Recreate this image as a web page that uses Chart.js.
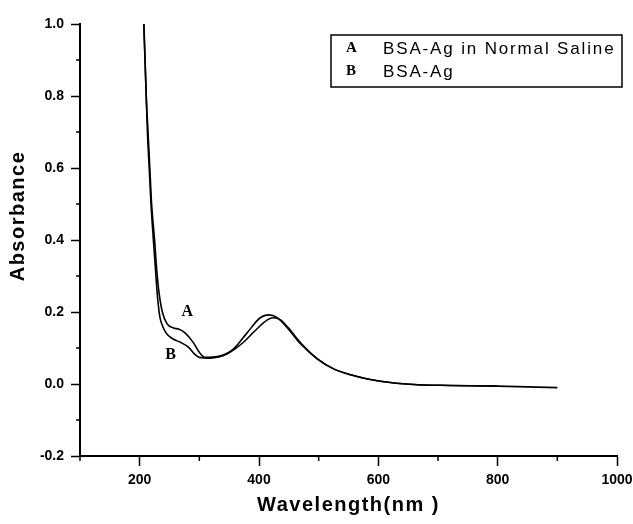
<!DOCTYPE html>
<html>
<head>
<meta charset="utf-8">
<script src="https://cdn.jsdelivr.net/npm/chart.js@4.4.1/dist/chart.umd.min.js"></script>
<style>
  html, body { margin: 0; padding: 0; background: #fff; }
  #wrap { width: 633px; height: 524px; }
</style>
</head>
<body>
<div id="wrap"><canvas id="uvChart"></canvas></div>
<script>
// curve A: BSA-Ag in Normal Saline
var wavelengthA = [207, 209, 211, 214, 217, 220, 225, 228, 232, 238, 246, 256, 266, 276, 290, 300, 310, 330, 357, 380, 402, 416, 430, 448, 470, 498, 525, 555, 582, 620, 666, 720, 800];
var absorbanceA = [1.0, 0.9, 0.8, 0.7, 0.6, 0.5, 0.4, 0.33, 0.26, 0.2, 0.167, 0.156, 0.152, 0.142, 0.115, 0.088, 0.074, 0.076, 0.097, 0.142, 0.184, 0.192, 0.185, 0.155, 0.111, 0.069, 0.042, 0.025, 0.014, 0.004, -0.002, -0.004, -0.006];

// curve B: BSA-Ag
var wavelengthB = [207, 209, 211, 213, 216, 219, 223, 226, 230, 234, 240, 246, 256, 268, 282, 292, 300, 318, 347, 374, 391, 414, 424, 436, 448, 470, 498, 525, 555, 582, 620, 666, 720, 800, 850, 900];
var absorbanceB = [1.0, 0.9, 0.8, 0.7, 0.6, 0.5, 0.4, 0.33, 0.24, 0.185, 0.155, 0.138, 0.125, 0.116, 0.102, 0.083, 0.074, 0.072, 0.084, 0.116, 0.144, 0.178, 0.184, 0.178, 0.158, 0.114, 0.07, 0.042, 0.025, 0.014, 0.004, -0.002, -0.004, -0.006, -0.008, -0.01];

var legendKeys = ["A", "B"];
var legendNames = ["BSA-Ag in Normal Saline", "BSA-Ag"];
var xTitle = "Wavelength(nm )";
var yTitle = "Absorbance";

function toPoints(xs, ys) {
    var pts = [];
    for (var i = 0; i < xs.length; i++) pts.push({ x: xs[i], y: ys[i] });
    return pts;
}

function isMajorX(v) { return Math.round(v) % 200 === 0; }
function isMajorY(v) { return Math.round(v * 10) % 2 === 0; }

var tickFont = { family: "Liberation Sans", size: 14, weight: "bold" };

// minor ticks, axis titles, legend box and A/B labels
var annotations = {
    id: "annotations",
    afterDraw: function (chart) {
        var ctx = chart.ctx;
        var xs = chart.scales.x, ys = chart.scales.y;
        var area = chart.chartArea;
        ctx.save();
        ctx.strokeStyle = "#000";
        ctx.lineWidth = 1.5;
        // minor ticks
        ctx.beginPath();
        xs.ticks.forEach(function (t) {
            if (isMajorX(t.value)) return;
            var px = xs.getPixelForValue(t.value);
            ctx.moveTo(px, area.bottom);
            ctx.lineTo(px, area.bottom + 5);
        });
        ys.ticks.forEach(function (t) {
            if (isMajorY(t.value)) return;
            var py = ys.getPixelForValue(t.value);
            ctx.moveTo(area.left, py);
            ctx.lineTo(area.left - 4, py);
        });
        ctx.stroke();

        ctx.fillStyle = "#000";
        ctx.textBaseline = "middle";
        if ("letterSpacing" in ctx) ctx.letterSpacing = "1.5px";
        // axis titles
        ctx.font = "bold 20px 'Liberation Sans'";
        ctx.textAlign = "center";
        ctx.fillText(xTitle, (area.left + area.right) / 2, 505);
        ctx.save();
        ctx.translate(18, 216);
        ctx.rotate(-Math.PI / 2);
        ctx.fillText(yTitle, 0, 0);
        ctx.restore();

        // legend box
        ctx.strokeRect(331, 35, 291, 52);
        ctx.textAlign = "left";
        for (var i = 0; i < legendKeys.length; i++) {
            var y = 48 + i * 23;
            if ("letterSpacing" in ctx) ctx.letterSpacing = "0px";
            ctx.font = "bold 15px 'Liberation Serif'";
            ctx.fillText(legendKeys[i], 346, y);
            if ("letterSpacing" in ctx) ctx.letterSpacing = "1.85px";
            ctx.font = "17px 'Liberation Sans'";
            ctx.fillText(legendNames[i], 383, y + 1);
        }
        if ("letterSpacing" in ctx) ctx.letterSpacing = "0px";
        // curve labels
        ctx.font = "bold 16px 'Liberation Serif'";
        ctx.textAlign = "center";
        ctx.fillText("A", xs.getPixelForValue(280), ys.getPixelForValue(0.2));
        ctx.fillText("B", xs.getPixelForValue(252), ys.getPixelForValue(0.082));
        ctx.restore();
    }
};

new Chart("uvChart", {
    type: "line",
    data: {
        datasets: [
            {
                label: legendNames[0],
                data: toPoints(wavelengthA, absorbanceA),
                borderColor: "#000",
                borderWidth: 1.6,
                pointRadius: 0,
                fill: false,
                cubicInterpolationMode: "monotone"
            },
            {
                label: legendNames[1],
                data: toPoints(wavelengthB, absorbanceB),
                borderColor: "#000",
                borderWidth: 1.6,
                pointRadius: 0,
                fill: false,
                cubicInterpolationMode: "monotone"
            }
        ]
    },
    options: {
        responsive: true,
        maintainAspectRatio: false,
        animation: false,
        layout: { padding: { top: 24, right: 16, left: 0, bottom: 0 } },
        plugins: {
            legend: { display: false },
            tooltip: { enabled: false }
        },
        scales: {
            x: {
                type: "linear",
                min: 100,
                max: 1000,
                border: { display: true, color: "#000", width: 2 },
                grid: {
                    drawOnChartArea: false,
                    drawTicks: true,
                    tickLength: 10,
                    tickWidth: 1.5,
                    tickColor: function (c) {
                        return (c.tick && isMajorX(c.tick.value)) ? "#000" : "rgba(0,0,0,0)";
                    }
                },
                ticks: {
                    stepSize: 100,
                    color: "#000",
                    font: tickFont,
                    padding: 6,
                    maxRotation: 0,
                    callback: function (v) {
                        return isMajorX(v) ? String(v) : "";
                    }
                },
                afterFit: function (s) {
                    s.height = 68;
                    s.paddingLeft = 0;
                    s.paddingRight = 0;
                }
            },
            y: {
                type: "linear",
                min: -0.2,
                max: 1.0,
                border: { display: true, color: "#000", width: 2 },
                grid: {
                    drawOnChartArea: false,
                    drawTicks: true,
                    tickLength: 9,
                    tickWidth: 1.5,
                    tickColor: function (c) {
                        return (c.tick && isMajorY(c.tick.value)) ? "#000" : "rgba(0,0,0,0)";
                    }
                },
                ticks: {
                    stepSize: 0.1,
                    color: "#000",
                    font: tickFont,
                    padding: 7,
                    callback: function (v) {
                        var k = Math.round(v * 10);
                        return isMajorY(v) ? (k / 10).toFixed(1) : "";
                    }
                },
                afterFit: function (s) {
                    s.width = 80;
                    s.paddingTop = 0;
                    s.paddingBottom = 0;
                }
            }
        }
    },
    plugins: [annotations]
});
</script>
</body>
</html>
